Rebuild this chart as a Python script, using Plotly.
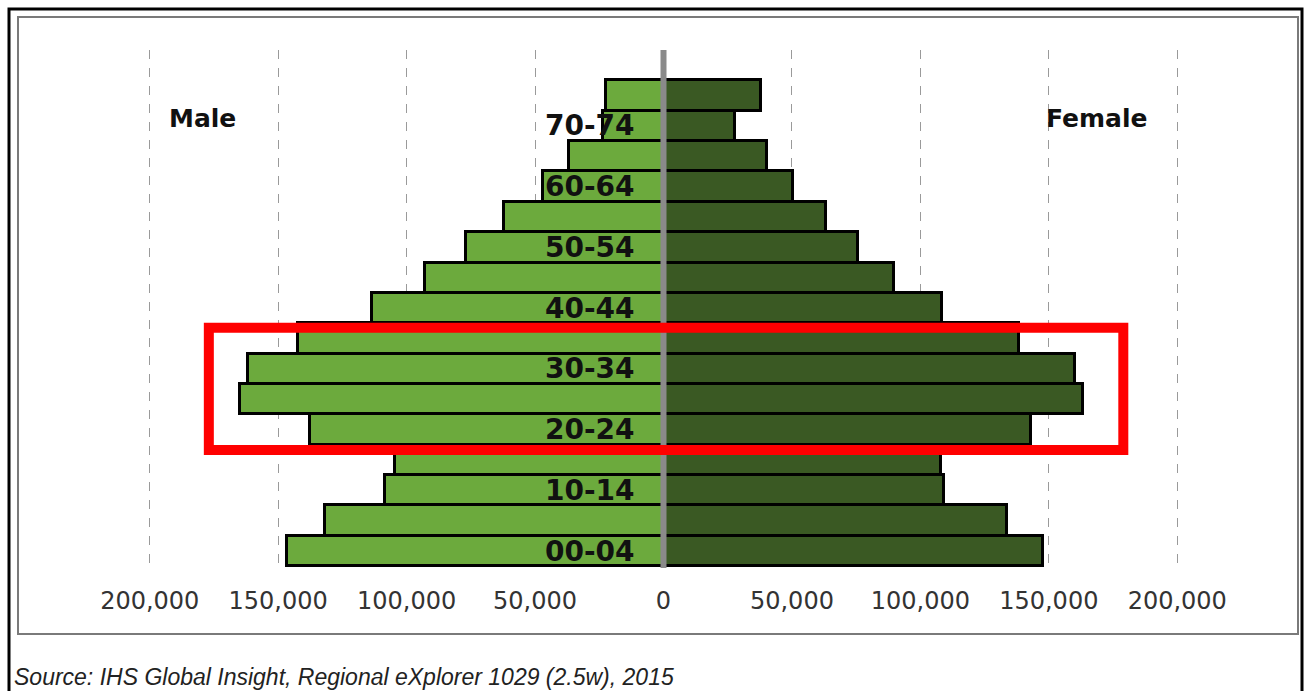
import plotly.graph_objects as go

# Age groups, youngest first
age_groups = ["00-04", "05-09", "10-14", "15-19", "20-24", "25-29", "30-34", "35-39",
              "40-44", "45-49", "50-54", "55-59", "60-64", "65-69", "70-74", "75+"]

male = [146400, 131600, 108600, 104400, 137500, 164700, 161600, 142100,
        113500, 92700, 76700, 61900, 47100, 36600, 23700, 22200]

female = [147600, 133600, 109100, 107900, 142900, 163500, 160100, 138200,
          108600, 89900, 75700, 63100, 50600, 40100, 28000, 38100]

tick_values = [-200000, -150000, -100000, -50000, 0, 50000, 100000, 150000, 200000]
tick_labels = ["200,000", "150,000", "100,000", "50,000", "0",
               "50,000", "100,000", "150,000", "200,000"]

# Highlighted cohort band (20-24 .. 35-39)
highlight_x = [-177000, 179000]
highlight_y = [3.33, 7.35]

MALE_COLOR = "#6CAA3D"
FEMALE_COLOR = "#3A5923"

W, H = 1304, 691
ML, MR, MT, MB = 47, 24, 50, 123
PW, PH = W - ML - MR, H - MT - MB


def px_x(px):
    return (px - ML) / PW


def px_y(py):
    return (H - MB - py) / PH


fig = go.Figure()
fig.add_trace(go.Bar(
    y=list(range(len(age_groups))), x=[-v for v in male], orientation="h",
    marker=dict(color=MALE_COLOR, line=dict(color="#000000", width=3)),
    name="Male", showlegend=False,
))
fig.add_trace(go.Bar(
    y=list(range(len(age_groups))), x=female, orientation="h",
    marker=dict(color=FEMALE_COLOR, line=dict(color="#000000", width=3)),
    name="Female", showlegend=False,
))

annotations = []
for i, g in enumerate(age_groups):
    if i % 2 == 0:
        annotations.append(dict(
            x=0, y=i, xref="x", yref="y", text=g, showarrow=False,
            xanchor="right", yanchor="middle", xshift=-27,
            font=dict(family="DejaVu Sans", size=28, color="#111111", weight="bold"),
        ))

annotations += [
    dict(x=-193300, y=14.26, xref="x", yref="y", text="<b>Male</b>", showarrow=False,
         xanchor="left", yanchor="middle",
         font=dict(family="DejaVu Sans", size=25, color="#111111")),
    dict(x=148000, y=14.26, xref="x", yref="y", text="<b>Female</b>", showarrow=False,
         xanchor="left", yanchor="middle",
         font=dict(family="DejaVu Sans", size=25, color="#111111")),
    dict(x=px_x(12), y=px_y(677), xref="paper", yref="paper",
         text="<i>Source: IHS Global Insight, Regional eXplorer 1029 (2.5w), 2015</i>",
         showarrow=False, xanchor="left", yanchor="middle",
         font=dict(family="Liberation Sans", size=23, color="#222222")),
]

shapes = [
    # centre axis line
    dict(type="line", xref="x", yref="paper", x0=0, x1=0, y0=0, y1=1,
         line=dict(color="#8a8a8a", width=6), layer="above"),
    # highlight box
    dict(type="rect", xref="x", yref="y",
         x0=highlight_x[0], x1=highlight_x[1], y0=highlight_y[0], y1=highlight_y[1],
         line=dict(color="#FF0000", width=10), fillcolor="rgba(0,0,0,0)", layer="above"),
    # inner frame
    dict(type="rect", xref="paper", yref="paper",
         x0=px_x(18), x1=px_x(1298), y0=px_y(634), y1=px_y(17),
         line=dict(color="#7a7a7a", width=2), layer="above"),
    # outer frame
    dict(type="rect", xref="paper", yref="paper",
         x0=px_x(9), x1=px_x(1302), y0=px_y(720), y1=px_y(9),
         line=dict(color="#000000", width=3), layer="above"),
]

fig.update_layout(
    width=W, height=H,
    margin=dict(l=ML, r=MR, t=MT, b=MB),
    paper_bgcolor="white", plot_bgcolor="white",
    barmode="overlay", bargap=0.0,
    annotations=annotations, shapes=shapes,
    xaxis=dict(
        range=[-240000, 240000], tickvals=tick_values, ticktext=tick_labels,
        showgrid=True, gridcolor="#9a9a9a", griddash="dash", gridwidth=1,
        zeroline=False, showline=False, ticks="", ticklabelstandoff=16,
        tickfont=dict(family="DejaVu Sans", size=24, color="#333333"),
        fixedrange=True,
    ),
    yaxis=dict(
        range=[-0.56, 16.5], showticklabels=False, showgrid=False,
        zeroline=False, showline=False, ticks="", fixedrange=True,
    ),
)

fig.write_html("out.html")
